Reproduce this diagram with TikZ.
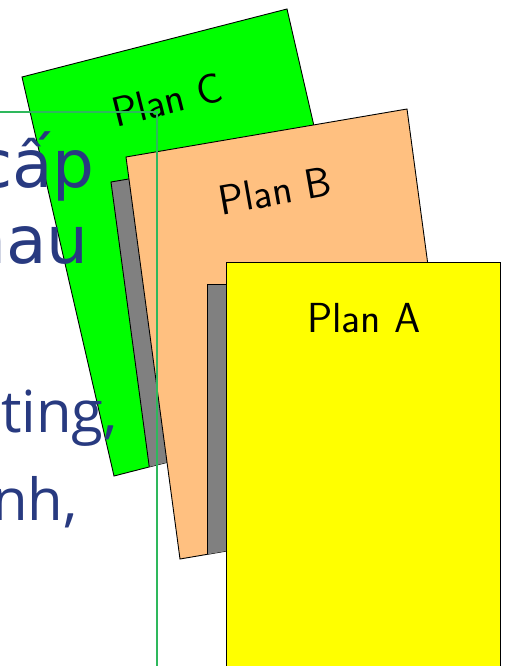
\documentclass[tikz,border=0pt]{standalone}
\usepackage{fontspec}
\newfontfamily\slidefont{DejaVu Sans}
\newfontfamily\slidefontb{Open Sans}
\definecolor{planC}{HTML}{00FF00}
\definecolor{planB}{HTML}{FFC080}
\definecolor{planA}{HTML}{FFFF00}
\definecolor{shadowgray}{HTML}{808080}
\definecolor{slideblue}{RGB}{40,58,128}
\definecolor{framegreen}{RGB}{46,184,92}

\begin{document}
\begin{tikzpicture}[x=1pt, y=-1pt,
  card/.style={draw=black, line width=0.9pt},
  shadowbox/.style={fill=shadowgray, draw=black, line width=0.9pt},
  planlabel/.style={font=\sffamily\fontsize{42}{42}\selectfont, inner sep=0pt},
  bigline/.style={anchor=base east, inner sep=0pt, text=slideblue, font=\slidefont\fontsize{66}{66}\selectfont},
  smallline/.style={anchor=base east, inner sep=0pt, text=slideblue, font=\slidefontb\fontsize{58}{58}\selectfont}]
  \useasboundingbox (0,0) rectangle (506,666);
  \clip (0,0) rectangle (506,666);

  % plan C, bottom card
  \draw[card, fill=planC] (22,77) -- (287,9) -- (379,408) -- (114,476) -- cycle;
  \begin{scope}
    \clip (22,77) -- (287,9) -- (379,408) -- (114,476) -- cycle;
    \draw[shadowbox] (111,182) -- (392,134) -- (446,536) -- (165,584) -- cycle;
  \end{scope}

  % plan B
  \draw[card, fill=planB] (126,157) -- (407,109) -- (461,511) -- (180,559) -- cycle;
  \begin{scope}
    \clip (126,157) -- (407,109) -- (461,511) -- (180,559) -- cycle;
    \draw[shadowbox] (207,284) rectangle (481,720);
  \end{scope}

  % plan A, top card
  \draw[card, fill=planA] (226,262) rectangle (500,720);

  \node[planlabel, rotate=14] (lblC) at (167,100) {Plan C};
  \node[planlabel, rotate=10] (lblB) at (275,191) {Plan B};
  \node[planlabel] (lblA) at (364,318) {Plan A};

  % slide text behind the cards
  \node[bigline] (line1) at (95,187) {cấp};
  \node[bigline] (line2) at (89,263) {nau};
  \node[smallline] (line3) at (118,432) {ting,};
  \node[smallline] (line4) at (78,520) {nh,};

  % text box frame
  \draw[framegreen, line width=1.5pt] (0,112) -- (157,112) -- (157,670);
\end{tikzpicture}
\end{document}
